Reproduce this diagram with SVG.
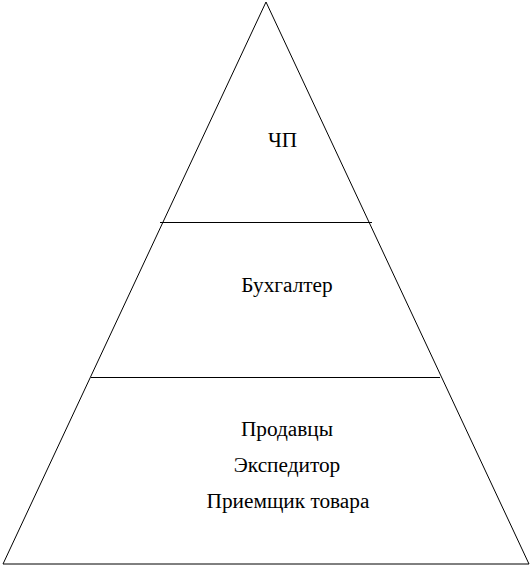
<svg xmlns="http://www.w3.org/2000/svg" width="532" height="567" viewBox="0 0 532 567">
<style>
.ln{stroke:#000;stroke-width:1;fill:none}
.t{font-family:"Liberation Serif","Times New Roman",serif;font-size:21.3px;fill:#000;text-anchor:middle}
</style>
<rect width="532" height="567" fill="#fff"/>
<g id="pyramid">
<polygon class="ln" points="266,2 529,564 3,564"/>
</g>
<g id="connectors">
<line class="ln" x1="160" y1="222.5" x2="372" y2="222.5"/>
<line class="ln" x1="91" y1="377.5" x2="440" y2="377.5"/>
</g>
<g id="node-chp"><text class="t" x="282.5" y="147">ЧП</text></g>
<g id="node-buh"><text class="t" x="287" y="292">Бухгалтер</text></g>
<g id="node-bottom">
<text class="t" x="287" y="436">Продавцы</text>
<text class="t" x="287" y="472">Экспедитор</text>
<text class="t" x="288" y="508">Приемщик товара</text>
</g>
</svg>
